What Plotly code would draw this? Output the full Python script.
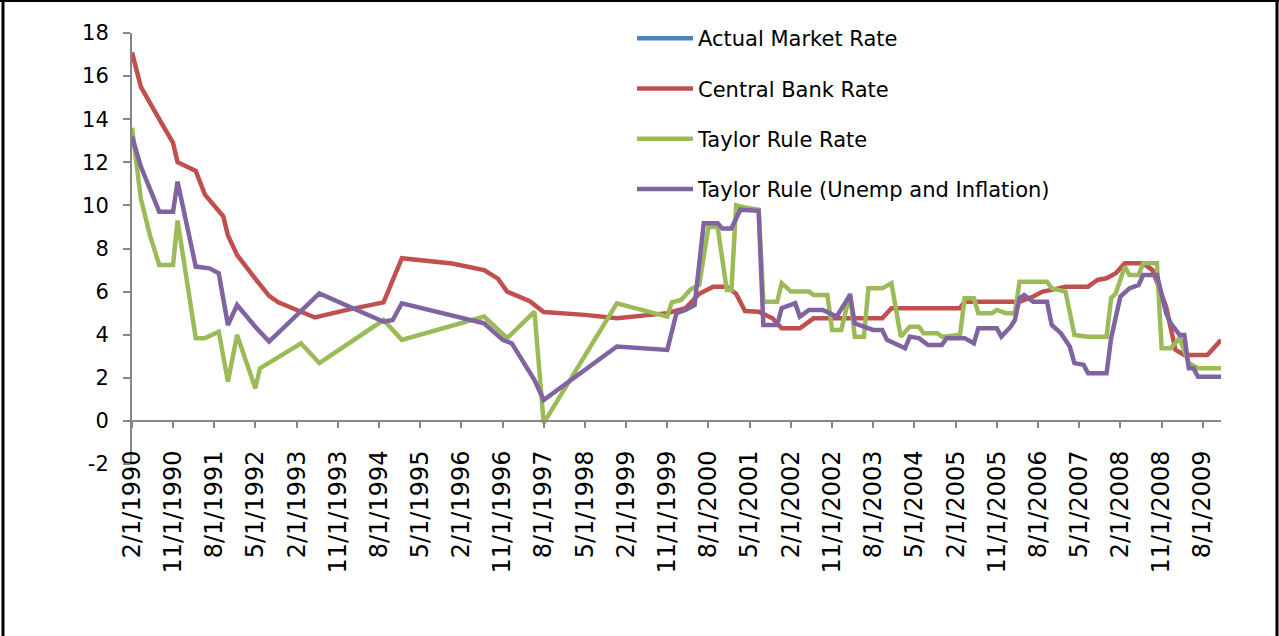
import plotly.graph_objects as go

# ---- data ----
cb_dates = ["1990-02", "1990-04", "1990-08", "1990-11", "1990-12", "1991-02", "1991-04", "1991-06",
            "1991-08", "1991-10", "1991-11", "1992-01", "1992-05", "1992-08", "1992-10", "1993-06",
            "1994-01", "1994-09", "1995-01", "1995-12", "1996-07", "1996-10", "1996-12", "1997-03",
            "1997-05", "1997-08", "1998-05", "1998-12", "1999-11", "2000-03", "2000-06", "2000-09",
            "2000-12", "2001-02", "2001-04", "2001-07", "2001-10", "2001-12", "2002-04", "2002-07",
            "2003-10", "2003-12", "2005-03", "2005-04", "2006-04", "2006-07", "2006-09", "2006-11",
            "2007-02", "2007-07", "2007-09", "2007-11", "2008-01", "2008-03", "2008-07", "2008-09",
            "2008-12", "2009-02", "2009-04", "2009-09", "2009-12"]
cb_rate = [17.1, 15.5, 14.0, 12.9, 12.0, 11.8, 11.6, 10.5,
           10.0, 9.5, 8.6, 7.7, 6.6, 5.8, 5.5, 4.8,
           5.15, 5.5, 7.55, 7.3, 7.0, 6.6, 6.0, 5.75,
           5.55, 5.05, 4.92, 4.76, 5.0, 5.23, 5.9, 6.23,
           6.23, 5.9, 5.1, 5.07, 4.76, 4.3, 4.3, 4.76,
           4.76, 5.23, 5.23, 5.53, 5.53, 5.77, 6.0, 6.08,
           6.23, 6.23, 6.54, 6.62, 6.85, 7.31, 7.31, 7.0,
           5.3, 3.3, 3.06, 3.06, 3.75]

taylor_dates = ["1990-02", "1990-04", "1990-06", "1990-08", "1990-11", "1990-12", "1991-04", "1991-06",
                "1991-09", "1991-11", "1992-01", "1992-05", "1992-06", "1993-03", "1993-07", "1994-09",
                "1995-01", "1996-07", "1996-12", "1997-06", "1997-08", "1998-12", "1999-11", "1999-12",
                "2000-02", "2000-04", "2000-06", "2000-08", "2000-10", "2000-12", "2001-01", "2001-02",
                "2001-04", "2001-07", "2001-08", "2001-11", "2001-12", "2002-02", "2002-06", "2002-07",
                "2002-10", "2002-11", "2003-01", "2003-03", "2003-04", "2003-06", "2003-07", "2003-10",
                "2003-12", "2004-02", "2004-04", "2004-06", "2004-07", "2004-10", "2004-11", "2005-03",
                "2005-04", "2005-06", "2005-07", "2005-10", "2005-11", "2006-01", "2006-03", "2006-04",
                "2006-10", "2006-11", "2007-02", "2007-04", "2007-07", "2007-11", "2007-12", "2008-01",
                "2008-03", "2008-04", "2008-06", "2008-07", "2008-10", "2008-11", "2009-01", "2009-03",
                "2009-05", "2009-07", "2009-12"]
taylor_rate = [13.6, 10.3, 8.6, 7.24, 7.24, 9.3, 3.84, 3.84,
               4.14, 1.82, 3.99, 1.51, 2.44, 3.6, 2.68, 4.68,
               3.76, 4.84, 3.84, 5.07, -0.1, 5.46, 4.84, 5.5,
               5.61, 6.08, 6.31, 9.0, 9.0, 6.08, 6.08, 10.0,
               9.9, 9.8, 5.53, 5.53, 6.39, 6.0, 6.0, 5.84,
               5.84, 4.22, 4.22, 5.92, 3.91, 3.91, 6.15, 6.15,
               6.39, 3.91, 4.37, 4.37, 4.07, 4.07, 3.91, 3.99,
               5.69, 5.69, 5.0, 5.0, 5.15, 5.0, 5.0, 6.46,
               6.46, 6.15, 6.0, 3.99, 3.91, 3.91, 5.69, 5.92,
               7.16, 6.77, 6.77, 7.31, 7.31, 3.37, 3.37, 3.84,
               2.68, 2.44, 2.44]

unemp_dates = ["1990-02", "1990-04", "1990-08", "1990-11", "1990-12", "1991-04", "1991-07", "1991-09",
               "1991-11", "1992-01", "1992-05", "1992-08", "1993-07", "1994-09", "1994-11", "1995-01",
               "1996-07", "1996-11", "1997-01", "1997-06", "1997-08", "1998-12", "1999-11", "2000-01",
               "2000-03", "2000-05", "2000-07", "2000-10", "2000-11", "2001-01", "2001-03", "2001-07",
               "2001-08", "2001-11", "2001-12", "2002-03", "2002-04", "2002-06", "2002-09", "2002-12",
               "2003-03", "2003-04", "2003-08", "2003-10", "2003-11", "2004-03", "2004-04", "2004-06",
               "2004-08", "2004-11", "2004-12", "2005-04", "2005-06", "2005-07", "2005-11", "2005-12",
               "2006-02", "2006-03", "2006-04", "2006-05", "2006-07", "2006-10", "2006-11", "2007-01",
               "2007-03", "2007-04", "2007-06", "2007-07", "2007-11", "2007-12", "2008-02", "2008-04",
               "2008-06", "2008-07", "2008-10", "2008-12", "2009-01", "2009-03", "2009-04", "2009-05",
               "2009-06", "2009-07", "2009-12"]
unemp_rate = [13.2, 11.8, 9.71, 9.71, 11.1, 7.16, 7.08, 6.85,
              4.45, 5.38, 4.37, 3.68, 5.92, 4.6, 4.68, 5.46,
              4.53, 3.76, 3.6, 1.9, 0.97, 3.45, 3.29, 5.0,
              5.15, 5.38, 9.17, 9.17, 8.93, 8.93, 9.8, 9.75,
              4.45, 4.45, 5.23, 5.46, 4.84, 5.15, 5.15, 4.84,
              5.84, 4.53, 4.22, 4.22, 3.76, 3.37, 3.91, 3.84,
              3.52, 3.52, 3.84, 3.84, 3.6, 4.3, 4.3, 3.91,
              4.37, 4.68, 5.69, 5.84, 5.53, 5.53, 4.45, 4.07,
              3.45, 2.68, 2.6, 2.21, 2.21, 3.84, 5.77, 6.15,
              6.31, 6.77, 6.77, 5.0, 4.53, 3.99, 3.99, 2.44,
              2.44, 2.05, 2.05]

# Actual Market Rate: listed in the legend, but no line of it is visible
market_dates = cb_dates
market_rate = [None] * len(cb_dates)

series_names = ["Actual Market Rate", "Central Bank Rate", "Taylor Rule Rate",
                "Taylor Rule (Unemp and Inflation)"]
series_colors = ["#4F81BD", "#C0504D", "#9BBB59", "#8064A2"]

x_range = ["1990-02-01", "2009-12-01"]
y_ticks = list(range(-2, 19, 2))
y_tick_text = [str(v) for v in y_ticks]

FONT = "DejaVu Sans"

fig = go.Figure()
all_x = [market_dates, cb_dates, taylor_dates, unemp_dates]
all_y = [market_rate, cb_rate, taylor_rate, unemp_rate]
for i, (name, col, xs, ys) in enumerate(zip(series_names, series_colors, all_x, all_y)):
    fig.add_trace(go.Scatter(
        x=[d + "-01" for d in xs], y=ys, mode="lines", name=name,
        line=dict(color=col, width=4.5), legendgroup=f"g{i}",
        showlegend=True, connectgaps=False,
    ))

# plot area in pixels
L, R, T, B = 132, 58, 33, 172
W, H = 1279, 636
pw, ph = W - L - R, H - T - B

def px2x(px):
    return (px - L) / pw

def py2y(py):
    return (H - B - py) / ph

fig.update_layout(
    width=W, height=H,
    margin=dict(l=L, r=R, t=T, b=B, autoexpand=False),
    paper_bgcolor="white", plot_bgcolor="white",
    font=dict(family=FONT, size=21, color="black"),
    showlegend=True,
    legend=dict(
        x=px2x(632), y=py2y(18), xanchor="left", yanchor="top",
        font=dict(family=FONT, size=21, color="black"),
        bgcolor="rgba(0,0,0,0)", traceorder="grouped", tracegroupgap=20,
        itemwidth=56,
    ),
    xaxis=dict(
        type="date", range=x_range, tick0="1990-02-01", dtick="M9",
        tickformat="%-m/%-d/%Y", tickangle=-90,
        showgrid=False, zeroline=False,
        showline=True, linecolor="#868686", linewidth=2,
        ticks="outside", ticklen=6, tickcolor="#868686", tickwidth=2,
        anchor="free", position=(0 - y_ticks[0]) / (y_ticks[-1] - y_ticks[0]),
        tickfont=dict(family=FONT, size=24, color="black"),
        ticklabelstandoff=13,
    ),
    yaxis=dict(
        range=[y_ticks[0], y_ticks[-1]], tickvals=y_ticks, ticktext=y_tick_text,
        showgrid=False, zeroline=False,
        showline=True, linecolor="#868686", linewidth=2,
        ticks="outside", ticklen=7, tickcolor="#868686", tickwidth=2,
        tickfont=dict(family=FONT, size=21, color="black"),
        ticklabelstandoff=10,
    ),
    shapes=[
        dict(type="line", xref="paper", yref="paper", x0=px2x(3), x1=px2x(3),
             y0=py2y(0), y1=py2y(640), line=dict(color="black", width=3)),
        dict(type="line", xref="paper", yref="paper", x0=px2x(0), x1=px2x(1279),
             y0=py2y(1), y1=py2y(1), line=dict(color="black", width=2)),
        dict(type="line", xref="paper", yref="paper", x0=px2x(1277), x1=px2x(1277),
             y0=py2y(0), y1=py2y(640), line=dict(color="black", width=3)),
    ],
)

fig.write_html("out.html", config={"displayModeBar": False},
               post_script="document.body.style.margin='0';")
